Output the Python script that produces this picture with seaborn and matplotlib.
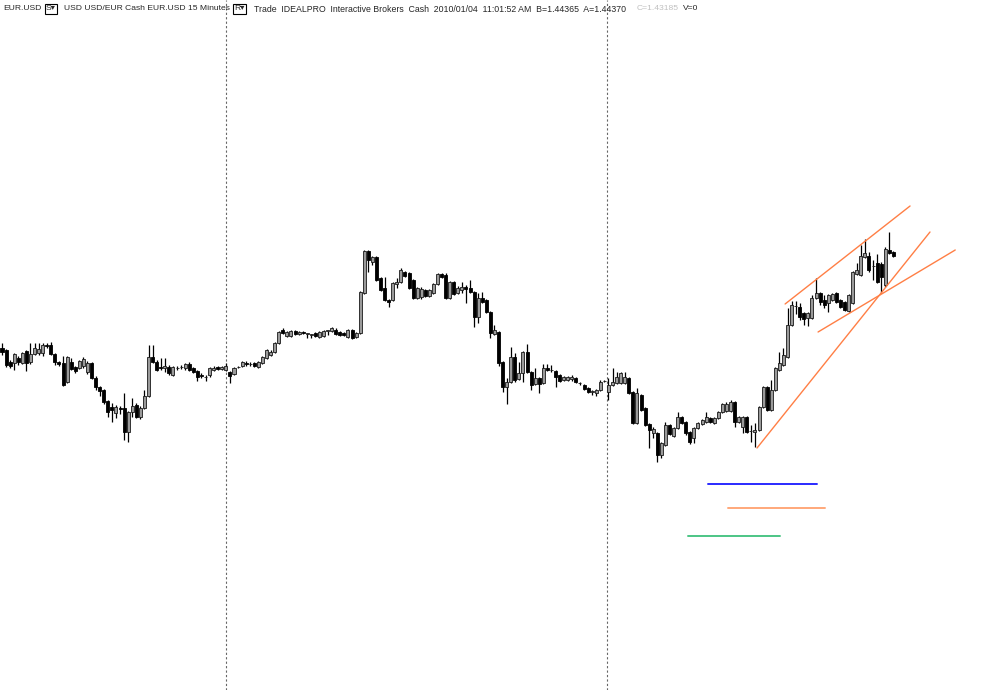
import numpy as np
import matplotlib.pyplot as plt
import seaborn as sns

# EUR.USD 15 minute bars, prices in pips above 1.4000
open_pips = [
    341, 339, 327, 326, 331, 326, 338, 327, 335, 336,
    336, 344, 344, 335, 327, 326, 307, 327, 322, 321,
    323, 317, 326, 311, 302, 299, 288, 282, 276, 281,
    281, 257, 277, 284, 272, 281, 293, 332, 327, 322,
    321, 322, 314, 321, 322, 321, 325, 321, 318, 314,
    312, 314, 319, 322, 320, 319, 317, 315, 322, 323,
    326, 325, 326, 322, 326, 331, 334, 337, 346, 359,
    353, 353, 358, 355, 357, 355, 354, 356, 352, 353,
    358, 358, 359, 357, 356, 352, 359, 352, 356, 396,
    438, 427, 432, 411, 401, 389, 389, 405, 407, 417,
    416, 409, 391, 392, 399, 393, 396, 405, 415, 414,
    391, 407, 396, 399, 402, 401, 397, 372, 391, 389,
    377, 355, 357, 327, 302, 307, 332, 310, 316, 337,
    317, 305, 311, 306, 321, 319, 318, 314, 309, 309,
    310, 311, 306, 304, 301, 297, 296, 299, 308, 297,
    304, 306, 306, 306, 311, 297, 266, 294, 281, 265,
    256, 256, 234, 244, 264, 253, 261, 272, 267, 257,
    251, 261, 265, 267, 271, 266, 271, 277, 278, 278,
    287, 267, 262, 272, 258, 257, 259, 282, 302, 279,
    299, 319, 324, 332, 364, 383, 382, 376, 371, 371,
    391, 396, 389, 386, 389, 396, 389, 387, 378, 386,
    415, 414, 432, 433, 423, 426, 425, 404, 439, 437,
]
high_pips = [
    346, 340, 329, 336, 333, 337, 339, 346, 346, 346,
    346, 346, 347, 336, 328, 333, 333, 331, 323, 329,
    332, 328, 327, 313, 303, 300, 289, 286, 284, 283,
    296, 278, 291, 286, 283, 299, 344, 344, 329, 331,
    331, 324, 323, 323, 324, 326, 327, 322, 319, 316,
    314, 322, 323, 323, 323, 326, 318, 322, 323, 328,
    328, 327, 327, 328, 333, 340, 339, 347, 358, 361,
    358, 359, 359, 358, 358, 356, 355, 357, 358, 359,
    358, 362, 361, 358, 357, 360, 360, 357, 398, 439,
    439, 433, 433, 412, 412, 390, 407, 411, 421, 418,
    417, 410, 402, 402, 400, 400, 406, 416, 416, 416,
    408, 408, 403, 407, 404, 409, 398, 396, 397, 390,
    378, 364, 358, 328, 311, 342, 336, 327, 338, 345,
    318, 321, 312, 325, 325, 324, 319, 315, 313, 313,
    314, 312, 307, 305, 302, 299, 300, 309, 309, 311,
    321, 317, 317, 317, 312, 298, 301, 295, 282, 266,
    262, 257, 247, 267, 265, 262, 277, 273, 268, 258,
    262, 267, 270, 277, 272, 272, 278, 286, 287, 289,
    288, 273, 273, 273, 264, 266, 283, 303, 303, 309,
    322, 337, 341, 381, 388, 388, 386, 377, 377, 394,
    411, 397, 394, 395, 396, 397, 390, 388, 395, 418,
    426, 444, 450, 437, 429, 435, 427, 442, 457, 438,
]
low_pips = [
    334, 322, 321, 319, 324, 325, 318, 325, 334, 334,
    333, 341, 334, 324, 323, 303, 306, 319, 316, 320,
    321, 315, 310, 299, 293, 285, 272, 267, 271, 275,
    249, 247, 272, 271, 270, 280, 292, 326, 318, 319,
    317, 314, 313, 319, 320, 319, 318, 316, 308, 311,
    308, 312, 318, 319, 319, 318, 306, 314, 321, 322,
    323, 323, 322, 321, 325, 330, 333, 336, 345, 355,
    352, 352, 354, 354, 355, 351, 351, 352, 351, 352,
    354, 357, 354, 353, 353, 351, 350, 351, 355, 395,
    417, 424, 408, 398, 388, 382, 388, 401, 406, 412,
    400, 390, 390, 390, 392, 392, 395, 404, 411, 390,
    390, 394, 395, 396, 386, 396, 362, 366, 386, 376,
    351, 354, 323, 297, 285, 306, 307, 309, 307, 316,
    299, 304, 296, 305, 318, 317, 302, 307, 308, 308,
    308, 306, 304, 299, 296, 294, 293, 298, 307, 289,
    303, 305, 305, 305, 295, 265, 265, 278, 263, 241,
    251, 227, 231, 243, 254, 252, 260, 265, 254, 245,
    246, 260, 264, 266, 266, 265, 270, 276, 277, 277,
    262, 266, 256, 256, 247, 242, 258, 281, 278, 278,
    298, 318, 323, 331, 363, 375, 369, 364, 363, 370,
    390, 384, 381, 377, 388, 386, 381, 378, 377, 385,
    414, 413, 431, 417, 409, 406, 396, 402, 435, 432,
]
close_pips = [
    337, 324, 323, 335, 327, 336, 326, 335, 341, 340,
    344, 343, 335, 327, 325, 304, 332, 320, 318, 328,
    330, 326, 311, 302, 298, 287, 277, 279, 282, 280,
    257, 277, 283, 272, 281, 293, 332, 327, 319, 321,
    323, 316, 322, 321, 322, 325, 319, 317, 312, 313,
    312, 321, 321, 320, 322, 323, 313, 321, 322, 327,
    325, 325, 323, 327, 332, 339, 337, 346, 357, 356,
    357, 358, 355, 357, 356, 355, 354, 353, 357, 358,
    358, 361, 355, 354, 354, 359, 351, 356, 397, 438,
    429, 432, 409, 399, 389, 387, 406, 407, 419, 413,
    401, 391, 401, 400, 393, 399, 405, 415, 412, 391,
    407, 395, 401, 402, 400, 397, 372, 391, 387, 377,
    356, 359, 326, 302, 307, 332, 309, 316, 337, 317,
    304, 311, 305, 321, 319, 319, 312, 308, 312, 312,
    312, 307, 306, 300, 297, 297, 299, 307, 308, 304,
    307, 312, 316, 312, 296, 266, 296, 279, 264, 259,
    260, 234, 246, 264, 255, 261, 272, 266, 256, 247,
    261, 266, 269, 272, 267, 271, 277, 285, 285, 287,
    267, 272, 272, 257, 258, 259, 282, 302, 279, 299,
    321, 326, 334, 364, 384, 383, 372, 370, 376, 391,
    396, 387, 384, 394, 395, 387, 382, 379, 394, 417,
    419, 433, 436, 419, 423, 407, 412, 440, 436, 433,
]

# day separators (bar index)
day_breaks = [55.0, 148.6]

# drawn trend lines: start/end bar and price (pips)
trend_x0 = [185.5, 192.4, 200.5]
trend_y0 = [241, 385, 357]
trend_x1 = [228.0, 223.1, 234.2]
trend_y1 = [457, 483, 439]

# horizontal marker lines: level (pips), start/end bar
hline_levels = [205, 181, 153]
hline_start = [173.5, 178.4, 168.6]
hline_end = [200.2, 202.2, 191.2]
hline_colors = ["#2a2aff", "#ffa87a", "#4cc585"]

base = 1.4
o = base + np.array(open_pips) / 10000
h = base + np.array(high_pips) / 10000
l = base + np.array(low_pips) / 10000
c = base + np.array(close_pips) / 10000
idx = np.arange(len(o))

sns.set_theme(style="white")
plt.rcParams["font.family"] = ["Liberation Sans", "DejaVu Sans"]

fig = plt.figure(figsize=(10, 6.9), dpi=100)
ax = fig.add_axes([0, 0, 1, 1])
ax.axis("off")

# day separators
for xb in day_breaks:
    ax.axvline(xb, color="#666666", ls=(0, (2, 2)), lw=0.8, zorder=1)

# wicks
ax.vlines(idx, l, h, color="black", lw=0.9, zorder=2)

# bodies
up = c >= o
body = np.maximum(np.abs(c - o), 0.00005)
bottom = np.minimum(o, c)
ax.bar(idx[up], body[up], bottom=bottom[up], width=0.74,
       color="#9a9a9a", edgecolor="#1a1a1a", linewidth=0.6, zorder=3)
ax.bar(idx[~up], body[~up], bottom=bottom[~up], width=0.74,
       color="black", edgecolor="black", linewidth=0.6, zorder=3)

# trend lines
for i in range(len(trend_x0)):
    seg = {"x": [trend_x0[i], trend_x1[i]],
           "y": [base + trend_y0[i] / 10000, base + trend_y1[i] / 10000]}
    sns.lineplot(data=seg, x="x", y="y", ax=ax, color="#ff7f45", lw=1.0,
                 zorder=4, estimator=None)

# horizontal lines
for lev, xs, xe, col in zip(hline_levels, hline_start, hline_end, hline_colors):
    seg = {"x": [xs, xe], "y": [base + lev / 10000] * 2}
    sns.lineplot(data=seg, x="x", y="y", ax=ax, color=col, lw=1.4,
                 zorder=4, estimator=None)

ax.set_xlim(-0.49, 245.2)
ax.set_ylim(base - 0.0001, base + 0.0689)
ax.axis("off")

# header
def px(x, y):
    return x / 1000, 1 - y / 690

fs = 6.1
fig.text(*px(3, 9), "EUR.USD", fontsize=fs, va="center", ha="left")
fig.text(*px(46, 9), "S\u25be", fontsize=fs, va="center", ha="left",
         bbox=dict(boxstyle="square,pad=0.15", fc="white", ec="black", lw=0.8))
fig.text(*px(64, 9), "USD USD/EUR Cash EUR.USD 15 Minutes", fontsize=fs,
         va="center", ha="left")
fig.text(*px(234, 9), "R\u25be", fontsize=fs, va="center", ha="left",
         bbox=dict(boxstyle="square,pad=0.15", fc="white", ec="black", lw=0.8))
fig.text(*px(254, 9),
         "Trade  IDEALPRO  Interactive Brokers  Cash  2010/01/04  11:01:52 AM  B=1.44365  A=1.44370",
         fontsize=6.35, va="center", ha="left")
fig.text(*px(637, 9), "C=1.43185", fontsize=fs, va="center", ha="left",
         color="#c0c0c0")
fig.text(*px(683, 9), "V=0", fontsize=fs, va="center", ha="left")

fig.savefig("out.png", dpi=100, facecolor="white")
